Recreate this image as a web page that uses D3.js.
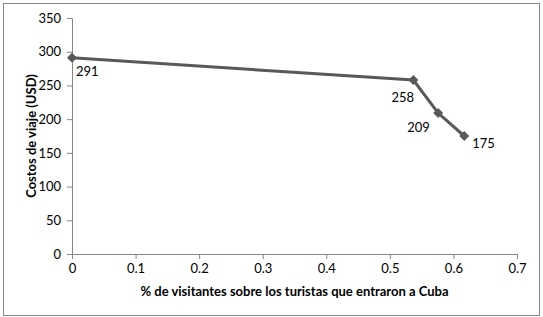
<!DOCTYPE html>
<html>
<head>
  <meta charset="utf-8">
  <script src="https://d3js.org/d3.v7.min.js"></script>
  <style>
    body { margin: 0; background: #fff; }
    text { font-family: Lato, "Open Sans", sans-serif; fill: #000; }
  </style>
</head>
<body>
  <script>
    // datos
    var xValues = [0, 0.537, 0.576, 0.617];
    var yValues = [291, 258, 209, 175];
    var pointLabels = ["291", "258", "209", "175"];
    var xTicks = [0, 0.1, 0.2, 0.3, 0.4, 0.5, 0.6, 0.7];
    var yTicks = [0, 50, 100, 150, 200, 250, 300, 350];
    // posicion de cada etiqueta respecto al punto
    var labelDx = [4, -22, -31, 8];
    var labelDy = [18, 22, 19, 12];

    var width = 543, height = 317;
    var margin = { top: 18, right: 26, bottom: 63, left: 72 };

    var svg = d3.select("body").append("svg")
      .attr("width", width).attr("height", height);

    // marco exterior
    svg.append("rect")
      .attr("x", 3.5).attr("y", 3.5)
      .attr("width", 536).attr("height", 312)
      .attr("fill", "#fff").attr("stroke", "#868686").attr("stroke-width", 1);

    var xScale = d3.scaleLinear().domain([0, 0.7]).range([margin.left, width - margin.right]);
    var yScale = d3.scaleLinear().domain([0, 350]).range([height - margin.bottom, margin.top]);

    var xAxis = svg.append("g")
      .attr("transform", "translate(0," + yScale(0) + ")")
      .call(d3.axisBottom(xScale).tickValues(xTicks).tickSize(5).tickPadding(5)
        .tickFormat(function (d) { return d === 0 ? "0" : d3.format(".1f")(d); }));
    var yAxis = svg.append("g")
      .attr("transform", "translate(" + xScale(0) + ",0)")
      .call(d3.axisLeft(yScale).tickValues(yTicks).tickSize(5).tickPadding(6));

    [xAxis, yAxis].forEach(function (ax) {
      ax.select(".domain").attr("stroke", "#868686");
      ax.selectAll(".tick line").attr("stroke", "#868686");
      ax.selectAll(".tick text").attr("font-size", 13).attr("fill", "#000");
    });

    // linea
    var line = d3.line()
      .x(function (d, i) { return xScale(xValues[i]); })
      .y(function (d) { return yScale(d); });

    svg.append("path")
      .datum(yValues)
      .attr("d", line)
      .attr("fill", "none")
      .attr("stroke", "#595959")
      .attr("stroke-width", 3);

    // marcadores
    svg.selectAll(".marker")
      .data(yValues)
      .enter().append("path")
      .attr("class", "marker")
      .attr("d", d3.symbol().type(d3.symbolDiamond2).size(64))
      .attr("transform", function (d, i) {
        return "translate(" + xScale(xValues[i]) + "," + yScale(d) + ")";
      })
      .attr("fill", "#595959");

    // etiquetas de datos
    svg.selectAll(".lbl")
      .data(yValues)
      .enter().append("text")
      .attr("class", "lbl")
      .attr("x", function (d, i) { return xScale(xValues[i]) + labelDx[i]; })
      .attr("y", function (d, i) { return yScale(d) + labelDy[i]; })
      .attr("font-size", 13)
      .text(function (d, i) { return pointLabels[i]; });

    // titulos
    svg.append("text")
      .attr("x", (xScale(0) + xScale(0.7)) / 2)
      .attr("y", 296)
      .attr("text-anchor", "middle")
      .attr("font-size", 13)
      .attr("font-weight", "bold")
      .text("% de visitantes sobre los turistas que entraron a Cuba");

    svg.append("text")
      .attr("transform", "translate(36," + (yScale(0) + yScale(350)) / 2 + ") rotate(-90)")
      .attr("text-anchor", "middle")
      .attr("font-size", 13)
      .attr("font-weight", "bold")
      .text("Costos de viaje (USD)");
  </script>
</body>
</html>
